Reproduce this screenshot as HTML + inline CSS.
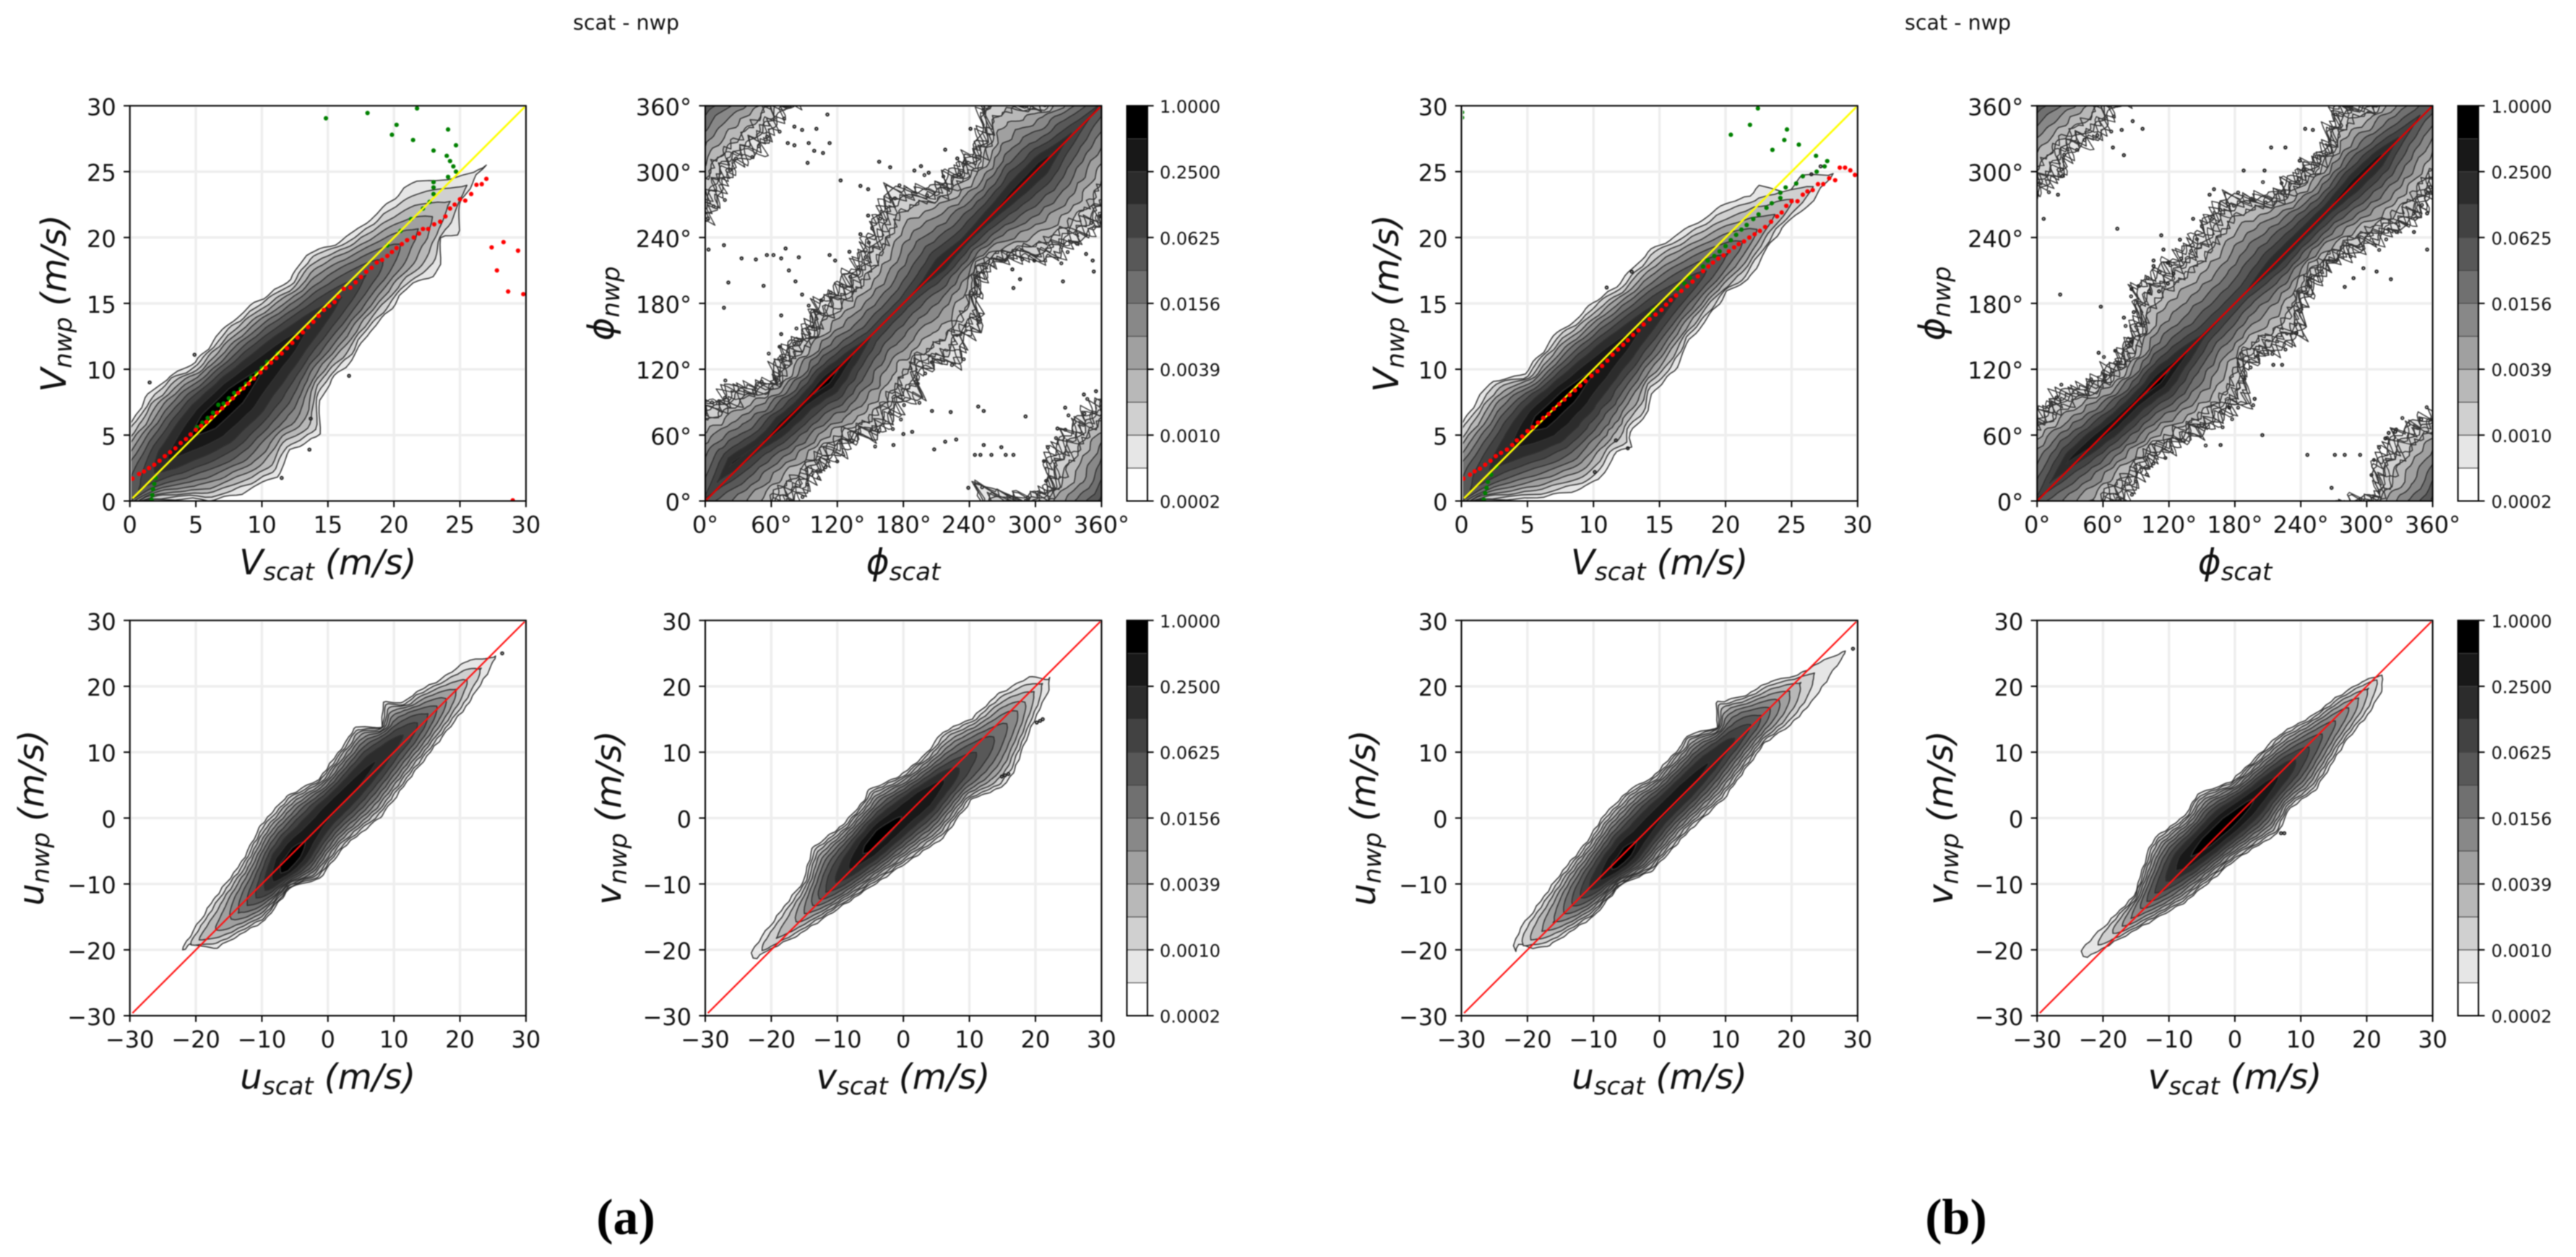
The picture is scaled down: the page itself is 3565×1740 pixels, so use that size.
<!DOCTYPE html>
<html lang="en">
<head>
<meta charset="utf-8">
<title>scat - nwp density comparison</title>
<style>
html,body{margin:0;padding:0;background:#fff;}
#figure{display:block;width:3565px;height:1740px;filter:blur(0.7px);}
text{font-family:"DejaVu Sans","Liberation Sans",sans-serif;fill:#111;}
.tick{font-size:32px;}
.cbtick{font-size:24px;}
.title{font-size:28.5px;}
.al{font-size:48.5px;font-style:italic;}
.al .sub{font-size:34px;}
.panel-tag{font-family:"Liberation Serif",serif;font-weight:bold;font-size:70px;fill:#000;}
</style>
</head>
<body>
<svg id="figure" xmlns="http://www.w3.org/2000/svg" width="3565" height="1740" viewBox="0 0 3565 1740">
<rect width="3565" height="1740" fill="#fff"/>
<g id="marks"></g>

<text class="title" x="866.5" y="41" text-anchor="middle">scat - nwp</text>
<text class="title" x="2709.5" y="41" text-anchor="middle">scat - nwp</text>

<text class="al" x="453.8" y="795" text-anchor="middle">V<tspan class="sub" dy="8">scat</tspan><tspan dy="-8" dx="15">(m/s)</tspan></text>
<text class="al" transform="translate(91,420) rotate(-90)" text-anchor="middle">V<tspan class="sub" dy="8">nwp</tspan><tspan dy="-8" dx="15">(m/s)</tspan></text>
<text class="al" x="1250" y="795" text-anchor="middle">ϕ<tspan class="sub" dy="8">scat</tspan></text>
<text class="al" transform="translate(849,420) rotate(-90)" text-anchor="middle">ϕ<tspan class="sub" dy="8">nwp</tspan></text>
<text class="al" x="453.8" y="1507" text-anchor="middle">u<tspan class="sub" dy="8">scat</tspan><tspan dy="-8" dx="15">(m/s)</tspan></text>
<text class="al" transform="translate(60,1132) rotate(-90)" text-anchor="middle">u<tspan class="sub" dy="8">nwp</tspan><tspan dy="-8" dx="15">(m/s)</tspan></text>
<text class="al" x="1250" y="1507" text-anchor="middle">v<tspan class="sub" dy="8">scat</tspan><tspan dy="-8" dx="15">(m/s)</tspan></text>
<text class="al" transform="translate(859,1132) rotate(-90)" text-anchor="middle">v<tspan class="sub" dy="8">nwp</tspan><tspan dy="-8" dx="15">(m/s)</tspan></text>

<text class="al" x="2296.6" y="795" text-anchor="middle">V<tspan class="sub" dy="8">scat</tspan><tspan dy="-8" dx="15">(m/s)</tspan></text>
<text class="al" transform="translate(1935,420) rotate(-90)" text-anchor="middle">V<tspan class="sub" dy="8">nwp</tspan><tspan dy="-8" dx="15">(m/s)</tspan></text>
<text class="al" x="3093" y="795" text-anchor="middle">ϕ<tspan class="sub" dy="8">scat</tspan></text>
<text class="al" transform="translate(2691,420) rotate(-90)" text-anchor="middle">ϕ<tspan class="sub" dy="8">nwp</tspan></text>
<text class="al" x="2296.6" y="1507" text-anchor="middle">u<tspan class="sub" dy="8">scat</tspan><tspan dy="-8" dx="15">(m/s)</tspan></text>
<text class="al" transform="translate(1903,1132) rotate(-90)" text-anchor="middle">u<tspan class="sub" dy="8">nwp</tspan><tspan dy="-8" dx="15">(m/s)</tspan></text>
<text class="al" x="3093" y="1507" text-anchor="middle">v<tspan class="sub" dy="8">scat</tspan><tspan dy="-8" dx="15">(m/s)</tspan></text>
<text class="al" transform="translate(2702,1132) rotate(-90)" text-anchor="middle">v<tspan class="sub" dy="8">nwp</tspan><tspan dy="-8" dx="15">(m/s)</tspan></text>

<text class="panel-tag" x="866" y="1708" text-anchor="middle">(a)</text>
<text class="panel-tag" x="2707" y="1708" text-anchor="middle">(b)</text>
</svg>

<script>
/* ---------- shared tick labels and colour levels ---------- */
const speedTicks = [0, 5, 10, 15, 20, 25, 30];
const directionTicks = [0, 60, 120, 180, 240, 300, 360];
const componentTicks = [-30, -20, -10, 0, 10, 20, 30];
const colorbarLabels = ['0.0002', '0.0010', '0.0039', '0.0156', '0.0625', '0.2500', '1.0000'];
const bandColors = ['#ffffff', '#e6e6e6', '#d0d0d0', '#b8b8b8', '#a0a0a0', '#888888', '#707070', '#585858', '#424242', '#2c2c2c', '#181818', '#000000'];
/* hand-typed contour wiggle (units of the panel's roughness) */
const edgeNoise = [0.6, -0.9, 0.3, 1, -0.4, -1, 0.8, -0.2, 0.5, -0.7, 1, 0.1, -0.8, 0.4, -0.3, 0.9, -1, 0.2, 0.7, -0.6, -0.1, 1, -0.9, 0.5, -0.4, 0.8, 0, -0.7, 0.6, -1, 0.3, 0.9, -0.5, -0.2, 0.7, -0.8, 1, -0.3, 0.4, -0.9, 0.2];

/* ---------- density contours: position along diagonal, then y-x offset or peak level ---------- */
const a1Upper = [[-3,6],[0,6],[3.1,5.8],[4.5,6.6],[6.25,6.5],[7.75,5.5],[9.45,5.9],[10.75,5.9],[12.35,5.5],[14.5,4.6],[16.1,5.4],[17.35,4.1],[18.85,3.3],[21.2,3],[22.95,2.7],[23.75,1.1],[25.5,-1.2],[26.2,-1.5]];
const a1Lower = [[-3,-0.5],[0,-0.5],[1,-1.8],[2.6,-4.8],[3,-6],[4.35,-7.7],[6.55,-9.3],[8.05,-8.3],[9.7,-9.4],[11,-6.8],[12.3,-6],[13.85,-6.1],[15.45,-5.3],[17.1,-5.2],[18.9,-4.8],[19.9,-5.8],[20.8,-5.6],[21.85,-3.3],[22.6,-4.8],[23.9,-2.2],[25.5,-1.6],[26.2,-1.5]];
const a1Ridge = [[-3,0],[3,0.3],[8,0.2],[12,-0.2],[16,-0.6],[20,-1],[24,-1.6],[26.2,-1.5]];
const a1Peak = [[-3,6.5],[0,7.2],[1.5,8.5],[3,10],[4.5,10.8],[6,11.6],[8,11.6],[10,11],[12,10.5],[14,9.7],[16,8.8],[18,7.6],[20,6],[22,4.2],[24,2.4],[25.5,1.4],[26.2,1]];
const a1Specks = [[4.9,11.1],[1.5,9],[13.7,6.25],[13.6,3.9],[11.5,1.75],[16.6,9.5]];

const a2Upper = [[0,90],[20,94],[41,93],[46,91],[53,73],[62,84],[71,65],[85,47],[96,60],[110,66],[123,61],[138,78],[154,73],[167,75],[181,81],[199,94],[225,117],[244,79],[257,75],[282,73],[303,99],[310,132],[315,108],[327,73],[343,58],[353,86],[360,90]];
const a2Lower = [[0,-88],[5,-90],[35,-75],[48,-79],[74,-74],[86,-79],[100,-80],[106,-96],[124,-93],[140,-88],[146,-104],[153,-76],[167,-83],[178,-103],[192,-85],[206,-92],[216,-60],[236,-42],[253,-62],[265,-91],[299,-105],[319,-100],[345,-79],[360,-88]];
const a2Ridge = [[0,3],[30,10],[60,0],[110,-2],[180,0],[360,3]];
const a2Peak = [[0,8],[15,9],[30,10.2],[50,10],[70,10.8],[90,10.6],[110,11.6],[130,10.4],[150,9],[180,8.8],[200,9.4],[215,10.2],[235,9.6],[250,9.8],[280,10.4],[305,10.6],[325,9.4],[345,8.5],[360,8]];
const a2Specks = [[111,352],[81,341],[88,338],[101,339],[94,326],[81,324],[75,326],[113,326],[99,319],[107,317],[93,308],[158,309],[168,304],[190,301],[203,299],[196,305],[218,320],[229,312],[241,339],[123,292],[141,287],[148,284],[148,260],[141,243],[3,229],[17,233],[33,221],[46,220],[56,224],[62,224],[69,221],[73,230],[85,222],[113,224],[118,219],[131,227],[76,210],[82,200],[53,196],[21,199],[88,188],[17,176],[69,169],[69,152],[206,82],[223,81],[248,86],[253,82],[291,77],[188,63],[171,51],[180,61],[218,54],[228,56],[208,47],[245,42],[250,42],[260,42],[273,42],[280,42],[253,51],[269,49],[320,66],[327,85],[344,97],[355,100],[353,209],[352,219],[325,200],[346,225],[286,202],[280,194],[279,211],[299,219],[239,12]];

const a3Upper = [[-21,2.2],[-19.3,3],[-15.2,4.8],[-10,6.3],[-5.5,9.1],[-1.5,9.55],[2.3,7.2],[7.6,9],[8.9,9.75],[10.95,5.7],[13.1,9.25],[14.35,6.1],[16.1,5.8],[19,4],[22.65,2.7],[24.7,-0.8],[25,-0.9]];
const a3Lower = [[-21,1.8],[-20,1.7],[-18.4,-2.8],[-12.5,-6],[-8.1,-4.8],[-5.25,-7.9],[-0.9,-6.8],[4.2,-7.8],[9.35,-6.3],[14.35,-5.1],[19.35,-3.9],[23.55,-1.9],[25,-1]];
const a3Ridge = [[-21,2],[-16,-0.5],[-10,-1.5],[-6,-1],[0,1],[10,1.5],[20,0],[25,-0.8]];
const a3Peak = [[-21,1],[-19,3],[-17,4],[-15,5],[-12,7.5],[-9,10],[-7,11.5],[-5,11.5],[-3,10.8],[-1,10.5],[2,10.5],[5,10.3],[8,10],[10,9.5],[12,9],[14,8],[16,6.5],[18,5],[20,3.5],[22,2.5],[24,1.2],[25,1]];
const a3Specks = [[26.4,25]];

const a4Upper = [[-22,2.4],[-20.65,3.1],[-17.8,4],[-12.35,5.5],[-9.2,9.2],[-5.05,8.1],[-1.7,8.6],[-0.55,9.5],[3.1,6.8],[6.65,6.3],[9.55,7.1],[12.75,4.7],[16.45,4.5],[20.35,2.3],[21.35,-0.7],[21.6,-0.8]];
const a4Lower = [[-22,1],[-20.75,0.7],[-16.9,-1.8],[-12.75,-3.5],[-3.8,-7],[1.5,-9],[6.65,-7.5],[9.7,-10.2],[11.8,-9.8],[14,-7.75],[17.3,-5],[20.7,-2.6],[21.6,-1]];
const a4Ridge = [[-22,1.5],[-16,0.5],[-8,0.5],[-3,1],[3,0],[8,-0.8],[14,-1.5],[20,-0.5],[21.6,-0.8]];
const a4Peak = [[-22,1],[-20,2.5],[-18,3.2],[-16,4],[-14,5.5],[-12,7.5],[-10,9],[-8,10],[-5,11.3],[-3,11.5],[0,11],[3,11],[6,10],[9,8.5],[12,7.5],[14,6.5],[16,5.5],[18,4],[20,2.5],[21.6,1]];
const a4Specks = [[15.4,6.5],[14.9,6.3],[15.9,6.7],[20.7,14.75],[20.2,14.5],[21.1,15]];

const b1Upper = [[-3,6],[0,5.8],[3,5.8],[3.8,6.2],[5.7,6.8],[7.2,4.8],[9.75,5.5],[11.7,5],[12.65,5.1],[14,4.5],[16.6,4.8],[18.3,3.8],[19.85,3.1],[21.45,2.5],[22.55,1.1],[23.2,1.6],[24,-1.2],[25.25,-1.1],[26.35,-3.1]];
const b1Lower = [[-3,-0.5],[0,-0.5],[1,-1.8],[2.6,-4.8],[3.3,-6],[4.9,-8],[6,-8.8],[7.65,-8.1],[8.55,-8.7],[8.8,-7.6],[10.5,-7.4],[11.3,-6.2],[13,-6.2],[14.75,-5.1],[16.8,-4.6],[18,-4.3],[19.25,-4.9],[21.35,-3.9],[22.55,-3.5],[23.6,-3.8],[24.65,-3.7],[26.35,-3.4]];
const b1Ridge = [[-3,0],[3,0.3],[8,0],[15,-0.5],[20,-1.5],[24,-2.2],[26.35,-3.3]];
const b1Peak = [[-3,6.5],[0,7.2],[1.5,8.5],[4,10],[6,11.5],[8,11.5],[10,11],[12,10.5],[14,9.8],[16,9],[18,8],[20,6.5],[22,4.5],[24,3],[25.5,1.8],[26.35,1]];
const b1Specks = [[11,16.2],[12.9,17.4],[12.6,4],[11.7,4.6],[10.1,2.2],[27.2,25.4],[26.5,24.8]];

const b2Upper = [[0,90],[17,94],[39,78],[60,77],[75,59],[99,53],[128,72],[140,103],[174,95],[189,94],[217,105],[226,102],[244,66],[264,61],[290,58],[314,84],[325,74],[338,54],[348,83],[360,90]];
const b2Lower = [[0,-75],[18,-85],[33,-71],[43,-75],[74,-67],[98,-81],[112,-90],[127,-92],[143,-98],[155,-66],[173,-75],[197,-89],[211,-61],[240,-50],[260,-63],[281,-75],[301,-88],[320,-78],[337,-84],[355,-72],[360,-75]];
const b2Ridge = [[0,3],[35,8],[70,0],[110,-2],[180,0],[360,3]];
const b2Peak = [[0,8],[15,9],[35,10.3],[50,10.8],[70,11],[90,10.8],[110,11.5],[130,10.5],[150,9.3],[170,9],[190,9],[215,10],[245,10],[265,10],[290,10.7],[310,10.5],[330,9],[350,8],[360,8]];
const b2Specks = [[69,322],[79,315],[77,338],[96,339],[87,346],[23,296],[19,279],[6,257],[21,188],[58,177],[79,167],[86,193],[56,135],[73,248],[142,257],[130,238],[113,242],[115,229],[106,219],[106,214],[119,217],[124,207],[119,198],[102,191],[111,191],[86,145],[88,172],[157,279],[161,284],[188,301],[207,301],[213,322],[226,322],[239,310],[244,339],[251,338],[355,262],[343,245],[355,229],[322,202],[309,209],[297,212],[280,195],[288,203],[198,93],[175,85],[167,51],[215,124],[223,124],[236,153],[205,60],[246,42],[271,42],[280,42],[294,42],[268,12],[317,57],[320,62],[326,63]];

const b3Upper = [[-21,2.5],[-18.95,4.3],[-15.2,5.4],[-11.5,6.6],[-7.3,7.4],[-4.1,8.8],[-0.25,8.9],[2.6,7.2],[7.25,7.7],[8.3,8.4],[11.3,5],[13.15,9.1],[13.7,8],[15.95,5.5],[18.65,4.1],[21.35,0.7],[23.9,-0.6],[26.65,-2.7]];
const b3Lower = [[-21,2],[-20.1,2],[-19.5,-0.6],[-18,-2.7],[-12.3,-5],[-8.1,-4.2],[-4.45,-6.9],[1.5,-6.4],[6.3,-6.8],[13.75,-4.5],[16.95,-5.7],[20.15,-5.5],[26.65,-3.1]];
const b3Ridge = [[-21,1.5],[-15,0],[-6,-0.7],[0,0.8],[10,1],[20,-0.5],[26.65,-2.8]];
const b3Peak = [[-21,1],[-19,3],[-17,4.2],[-15,5.5],[-12,8],[-10,9.5],[-7,11.3],[-5,11.5],[-3,10.8],[0,10.5],[4,10.5],[8,10],[11,9.3],[14,8],[16,6.5],[18,5],[20,3.5],[22,2.2],[24,1.5],[26.65,1]];
const b3Specks = [[29.3,25.7]];

const b4Upper = [[-22,3],[-20.8,3.4],[-16.8,3.4],[-13.6,3.4],[-8.8,8.4],[-7.55,9.1],[-3.65,7.9],[-1.05,9.3],[2.45,6.1],[9.85,5.9],[13.5,3.8],[16.85,2.9],[20,1.4],[21.7,-0.2],[22,-0.5]];
const b4Lower = [[-22,1.5],[-21.15,0.9],[-16.2,-1.8],[-10.2,-5.2],[-3.1,-6.4],[2.1,-8.8],[5,-6.8],[8.2,-8],[14.1,-5.2],[18.3,-4.4],[20.85,-2.9],[22,-0.8]];
const b4Ridge = [[-22,2],[-16,0.5],[-8,1],[-3,0.5],[3,0],[10,-0.5],[16,-0.5],[22,-0.6]];
const b4Peak = [[-22,1],[-20,2],[-18,3],[-16,4.5],[-14,6],[-12,7.8],[-10,9],[-7,10.8],[-4,11.5],[-1,11.6],[2,11.2],[5,10.5],[8,9.5],[10,8.5],[13,7],[15,6],[17,5],[19,3.5],[21,2.2],[22,1]];
const b4Specks = [[7,-2.3],[7.5,-2.3]];

/* ---------- binned means: red = nwp given scat, green = scat given nwp ---------- */
const a1RedX = [0.2,0.7,1.07,1.45,1.85,2.25,2.65,3.05,3.45,3.85,4.25,4.6,5,5.4,5.8,6.2,6.6,7,7.4,7.8,8.2,8.6,9,9.4,9.9,10.3,10.7,11.1,11.5,11.9,12.3,12.7,13.1,13.5,13.9,14.3,14.7,15.1,15.5,15.8,16.2,16.7,17.1,17.5,17.9,18.3,18.7,19.1,19.5,19.85,20.2,20.6,21,21.5,21.9,22.2,22.6,23.05,23.5,23.9,24.25,24.6,25,25.4,25.85,26.25,26.65,27,27.4,27.8,28.3,28.65,29.4,29.8,29];
const a1RedY = [1.7,2.05,2.24,2.5,2.75,3.05,3.4,3.7,4,4.4,4.7,5.05,5.4,5.7,6,6.35,6.7,7.05,7.4,7.8,8.2,8.55,8.9,9.3,9.75,10.1,10.5,10.85,11.2,11.6,12,12.4,12.8,13.2,13.6,14.05,14.5,14.8,15.1,15.5,16.1,16.2,16.6,17,17.4,17.7,18.1,18.3,18.6,18.9,19.2,19.5,19.8,20,20.3,20.65,20.65,21,21.2,21.6,22.2,22.5,22.9,22.8,23.3,24,24.05,24.45,19.25,17.5,19.65,15.9,19,15.7,0.05];
const a1GreenX = [1.65,1.7,1.75,1.85,1.95,5.1,5.5,5.9,6.3,6.7,7.1,7.5,7.9,8.4,8.8,9.2,9.6,10,10.4,11.2,19.5,20.5,21.3,22.2,22.7,23,23,23,24.1,24.7,24.5,24.25,24,23,24.7,21.45,19.85,24.1,20.2,14.85,18,21.75];
const a1GreenY = [0.1,0.45,0.9,1.3,1.75,5.6,5.95,6.3,6.7,7.3,7.4,7.8,8.2,8.5,8.9,9.35,9.7,10.1,10.55,11.2,19.4,20.5,21.4,22.2,22.7,23.3,23.8,24.2,24.6,25,25.4,25.8,26.2,26.6,27,27.4,27.8,28.2,28.55,29.05,29.45,29.8];
const b1RedX = [0.15,0.65,1,1.4,1.8,2.2,2.6,3,3.45,3.85,4.2,4.6,5,5.4,5.8,6.2,6.6,7,7.4,7.8,8.2,8.6,9,9.4,9.85,10.3,10.65,11.05,11.45,11.85,12.25,12.6,13,13.4,13.8,14.25,14.7,15.15,15.5,15.85,16.25,16.65,17.1,17.5,17.9,18.3,18.7,19.05,19.45,19.85,20.25,20.65,21,21.4,21.8,22.2,22.6,23,23.45,23.9,24.25,24.6,25,25.45,25.85,26.2,26.6,27,27.4,27.85,28.3,28.65,29.05,29.45,29.8];
const b1RedY = [1.7,2,2.25,2.45,2.75,3.05,3.4,3.65,3.9,4.25,4.6,4.9,5.3,5.6,5.95,6.3,6.6,7,7.35,7.7,8.05,8.4,8.75,9.1,9.5,9.85,10.25,10.65,11.1,11.5,11.85,12.2,12.6,12.95,13.4,13.8,14.15,14.5,14.9,15.25,15.6,15.95,16.3,16.65,17.05,17.45,17.8,18.1,18.4,18.65,18.95,19.25,19.5,19.7,20,20.25,20.5,20.8,21.2,21.6,21.9,22.4,22.75,22.75,23.25,23.5,23.6,24.05,24.05,24.5,24.35,25.3,25.3,25.1,24.75];
const b1GreenX = [0.05,0.05,1.7,1.8,1.9,2,2.25,2.65,14.2,14.5,16.4,16.9,17.3,18.3,18.65,19.15,19.55,20,20.4,20.8,21.2,21.6,22.1,22.5,23.1,23.5,24.15,24.15,24.55,25.35,25.85,26.9,27.5,27.7,26.85,23.55,25.55,24.45,20.4,24.65,21.85,22.45];
const b1GreenY = [29.5,29.1,0.1,0.6,1,1.45,2,2.6,14.1,14.5,16.1,16.5,16.95,17.8,18.25,18.6,18.95,19.35,19.8,20.2,20.6,20.95,21.4,21.75,22.25,22.6,23,23.4,23.8,24.1,24.65,25,25.4,25.8,26.2,26.65,27.05,27.4,27.8,28.2,28.55,29.8];

/* ---------- layout ---------- */
const rowTop = {top: 146.4, bottom: 693.5};
const rowBottom = {top: 858.8, bottom: 1406};
const colA1 = {left: 179.7, right: 727.9};
const colA2 = {left: 976, right: 1524.4};
const colB1 = {left: 2022.5, right: 2570.8};
const colB2 = {left: 2819.2, right: 3366.6};

const speedScale = {min: 0, max: 30, step: 0.25, k: 0.68, rough: 0.2, smooth: 2, fringe: false, ticks: speedTicks, deg: false, periodic: false, line: '#ffff00', lineEnds: [0.2, 29.9], lineWidth: 2.6, inset: 0.12};
const directionScale = {min: 0, max: 360, step: 2, k: 1.1, rough: 8, smooth: 30, fringe: true, ticks: directionTicks, deg: true, periodic: true, line: '#e00000', lineEnds: [1, 359], lineWidth: 2.4, inset: 0};
const componentScale = {min: -30, max: 30, step: 0.25, k: 0.6, rough: 0.2, smooth: 2, fringe: false, ticks: componentTicks, deg: false, periodic: false, line: '#ff1010', lineEnds: [-29.6, 29.8], lineWidth: 2.2, inset: 0};

const panels = [
  {id: 'a-speed', col: colA1, row: rowTop, scale: speedScale, upper: a1Upper, lower: a1Lower, ridge: a1Ridge, peak: a1Peak, specks: a1Specks, redX: a1RedX, redY: a1RedY, greenX: a1GreenX, greenY: a1GreenY},
  {id: 'a-direction', col: colA2, row: rowTop, scale: directionScale, upper: a2Upper, lower: a2Lower, ridge: a2Ridge, peak: a2Peak, specks: a2Specks, bar: {left: 1559.5, right: 1588, text: 1605}},
  {id: 'a-u', col: colA1, row: rowBottom, scale: componentScale, upper: a3Upper, lower: a3Lower, ridge: a3Ridge, peak: a3Peak, specks: a3Specks},
  {id: 'a-v', col: colA2, row: rowBottom, scale: componentScale, upper: a4Upper, lower: a4Lower, ridge: a4Ridge, peak: a4Peak, specks: a4Specks, bar: {left: 1559.5, right: 1588, text: 1605}},
  {id: 'b-speed', col: colB1, row: rowTop, scale: speedScale, upper: b1Upper, lower: b1Lower, ridge: b1Ridge, peak: b1Peak, specks: b1Specks, redX: b1RedX, redY: b1RedY, greenX: b1GreenX, greenY: b1GreenY},
  {id: 'b-direction', col: colB2, row: rowTop, scale: directionScale, upper: b2Upper, lower: b2Lower, ridge: b2Ridge, peak: b2Peak, specks: b2Specks, bar: {left: 3401.6, right: 3430, text: 3447.7}},
  {id: 'b-u', col: colB1, row: rowBottom, scale: componentScale, upper: b3Upper, lower: b3Lower, ridge: b3Ridge, peak: b3Peak, specks: b3Specks},
  {id: 'b-v', col: colB2, row: rowBottom, scale: componentScale, upper: b4Upper, lower: b4Lower, ridge: b4Ridge, peak: b4Peak, specks: b4Specks, bar: {left: 3401.6, right: 3430, text: 3447.7}}
];

/* ---------- helpers ---------- */
const NS = 'http://www.w3.org/2000/svg';
const root = document.getElementById('marks');
function svgEl(parent, tag, attrs) {
  const el = document.createElementNS(NS, tag);
  for (const key in attrs) el.setAttribute(key, attrs[key]);
  parent.appendChild(el);
  return el;
}
function interp(knots, t, periodic) {
  if (periodic) t = ((t % 360) + 360) % 360;
  if (t <= knots[0][0]) return knots[0][1];
  for (let i = 1; i < knots.length; i++) {
    if (t <= knots[i][0]) {
      const a = knots[i - 1], b = knots[i];
      return b[0] === a[0] ? b[1] : a[1] + (b[1] - a[1]) * (t - a[0]) / (b[0] - a[0]);
    }
  }
  return knots[knots.length - 1][1];
}
function fmtTick(v, deg) {
  const s = String(Math.abs(v));
  return (v < 0 ? '\u2212' : '') + s + (deg ? '\u00b0' : '');
}
function noiseAt(i, rate) {
  const pos = i * rate;
  const a = Math.floor(pos);
  const frac = pos - a;
  const n = edgeNoise.length;
  return edgeNoise[a % n] * (1 - frac) + edgeNoise[(a + 1) % n] * frac;
}
/* inner contours follow a smoothed version of the outer edge */
function smoothEdge(knots, t, w, periodic) {
  if (w <= 0) return interp(knots, t, periodic);
  return (interp(knots, t - w, periodic) + interp(knots, t, periodic) + interp(knots, t + w, periodic)) / 3;
}

/* one closed outline per contiguous stretch of the diagonal where the peak exceeds level L */
function contourRuns(p, L, shift, tangle) {
  const sc = p.scale;
  const first = sc.periodic ? -80 : p.peak[0][0];
  const last = sc.periodic ? 440 : p.peak[p.peak.length - 1][0];
  const rate = tangle === 1 ? 0.83 : tangle === 2 ? 0.61 : 0.37;
  const amp = tangle === 1 ? sc.rough * 1.5 : tangle === 2 ? sc.rough * 2 : sc.rough;
  const phase = tangle ? tangle * L * 19 + 5 : 0;
  const runs = [];
  let run = null;
  let index = 100;
  for (let t = first; t <= last + 1e-6; t += sc.step, index++) {
    const P = interp(p.peak, t, sc.periodic);
    if (P > L) {
      if (!run) { run = {up: [], low: [], start: t}; runs.push(run); }
      const R = interp(p.ridge, t, sc.periodic);
      const f = L === 1 ? 1 : Math.pow((P - L) / (P - 1), sc.k);
      const w = (1 - f) * sc.smooth;
      const U = smoothEdge(p.upper, t, w, sc.periodic);
      const W = smoothEdge(p.lower, t, w, sc.periodic);
      const g = Math.pow(f, 1.5);
      const nu = noiseAt(index + L * 7 + phase, rate) * amp * g;
      const nl = noiseAt(index + L * 13 + 11 + phase, rate) * amp * g;
      const du = R + (U - R) * f + nu;
      const dl = R + (W - R) * f + nl;
      run.up.push([t - du / 2, t + du / 2 + shift]);
      run.low.push([t - dl / 2, t + dl / 2 + shift]);
      run.end = t;
    } else {
      run = null;
    }
  }
  return runs;
}
function runPath(p, r, shift, sx, sy) {
  const sc = p.scale;
  const R0 = interp(p.ridge, r.start - sc.step, sc.periodic);
  const R1 = interp(p.ridge, r.end + sc.step, sc.periodic);
  const tipA = [r.start - sc.step - R0 / 2, r.start - sc.step + R0 / 2 + shift];
  const tipB = [r.end + sc.step - R1 / 2, r.end + sc.step + R1 / 2 + shift];
  const pts = [tipA].concat(r.up, [tipB], r.low.slice().reverse());
  return 'M' + pts.map(function (q) { return sx(q[0]).toFixed(1) + ' ' + sy(q[1]).toFixed(1); }).join('L') + 'Z';
}

/* ---------- draw ---------- */
panels.forEach(function (p) {
  const sc = p.scale;
  const L0 = p.col.left, R0 = p.col.right, T0 = p.row.top, B0 = p.row.bottom;
  const sx = function (v) { return L0 + (v - sc.min) / (sc.max - sc.min) * (R0 - L0); };
  const sy = function (v) { return B0 - (v - sc.min) / (sc.max - sc.min) * (B0 - T0); };

  const g = svgEl(root, 'g', {});
  
  

  const defs = svgEl(g, 'defs', {});
  const clip = svgEl(defs, 'clipPath', {id: 'clip-' + p.id});
  svgEl(clip, 'rect', {x: sx(sc.min + sc.inset), y: T0, width: R0 - sx(sc.min + sc.inset), height: sy(sc.min + sc.inset * 0.4) - T0});

  /* grid */
  sc.ticks.forEach(function (v) {
    const gx = svgEl(g, 'line', {x1: sx(v), x2: sx(v), y1: T0, y2: B0, stroke: '#eeeeee', 'stroke-width': 3.5});
    
    
    const gy = svgEl(g, 'line', {x1: L0, x2: R0, y1: sy(v), y2: sy(v), stroke: '#eeeeee', 'stroke-width': 3.5});
    
    
  });

  const plot = svgEl(g, 'g', {'clip-path': 'url(#clip-' + p.id + ')'});
  
  

  const shifts = sc.periodic ? [0, 360, -360] : [0];
  for (let L = 1; L <= 11; L++) {
    shifts.forEach(function (shift) {
      contourRuns(p, L, shift, 0).forEach(function (r) {
        const band = svgEl(plot, 'path', {d: runPath(p, r, shift, sx, sy), fill: bandColors[L], stroke: '#303030', 'stroke-width': 1.5, 'stroke-linejoin': 'round'});
        
        
        if (sc.fringe && L === 1) {
          r.up.concat(r.low).forEach(function (q, i) {
            if (i % 4 !== 0) return;
            const off = noiseAt(i + 3, 0.91) * 9;
            const ring = svgEl(plot, 'circle', {cx: sx(q[0] + off), cy: sy(q[1] - off), r: 1.8, fill: 'none', stroke: '#2a2a2a', 'stroke-width': 1.8});
            
            
          });
        }
      });
      if (sc.fringe && L <= 3) {
        contourRuns(p, L, shift, 1).forEach(function (r) {
          const tangle = svgEl(plot, 'path', {d: runPath(p, r, shift, sx, sy), fill: 'none', stroke: '#333333', 'stroke-width': 1.5, 'stroke-linejoin': 'round'});
          
          
        });
      }
      if (sc.fringe && L <= 2) {
        contourRuns(p, L, shift, 2).forEach(function (r) {
          const tangleB = svgEl(plot, 'path', {d: runPath(p, r, shift, sx, sy), fill: 'none', stroke: '#333333', 'stroke-width': 1.4, 'stroke-linejoin': 'round'});
          
          
        });
      }
    });
  }
  p.specks.forEach(function (s) {
    const speck = svgEl(plot, 'circle', {cx: sx(s[0]), cy: sy(s[1]), r: 1.8, fill: 'none', stroke: '#222222', 'stroke-width': 2});
    
    
  });

  const overlay = svgEl(g, 'g', {'clip-path': 'url(#clip-' + p.id + ')'});
  
  

  if (p.greenX) {
    p.greenX.forEach(function (x, i) {
      const dot = svgEl(overlay, 'circle', {cx: sx(x), cy: sy(p.greenY[i]), r: 3.1, fill: '#008000'});
      
      
    });
  }
  const ref = svgEl(overlay, 'line', {x1: sx(sc.lineEnds[0]), y1: sy(sc.lineEnds[0]), x2: sx(sc.lineEnds[1]), y2: sy(sc.lineEnds[1]), stroke: sc.line, 'stroke-width': sc.lineWidth});
  
  
  if (p.redX) {
    p.redX.forEach(function (x, i) {
      const dot = svgEl(overlay, 'circle', {cx: sx(x), cy: sy(p.redY[i]), r: 3.1, fill: '#ff0000'});
      
      
    });
  }

  /* frame */
  const frame = svgEl(g, 'rect', {x: L0, y: T0, width: R0 - L0, height: B0 - T0, fill: 'none', stroke: '#000', 'stroke-width': 2});
  
  

  /* ticks */
  sc.ticks.forEach(function (v) {
    const tx = svgEl(g, 'line', {x1: sx(v), x2: sx(v), y1: B0, y2: B0 + 8.6, stroke: '#000', 'stroke-width': 2});
    
    
    const ty = svgEl(g, 'line', {x1: L0 - 8.6, x2: L0, y1: sy(v), y2: sy(v), stroke: '#000', 'stroke-width': 2});
    
    
    const lx = svgEl(g, 'text', {x: sx(v), y: B0 + 44, 'text-anchor': 'middle', 'class': 'tick'});
    
    
    lx.textContent = fmtTick(v, sc.deg);
    const ly = svgEl(g, 'text', {x: L0 - 19, y: sy(v) + 13, 'text-anchor': 'end', 'class': 'tick'});
    
    
    ly.textContent = fmtTick(v, sc.deg);
  });

  /* colour bar */
  if (p.bar) {
    const bar = svgEl(g, 'g', {});
    
    
    const h = (B0 - T0) / bandColors.length;
    bandColors.forEach(function (c, i) {
      const seg = svgEl(bar, 'rect', {x: p.bar.left, y: B0 - (i + 1) * h, width: p.bar.right - p.bar.left, height: h, fill: c, stroke: '#444', 'stroke-width': 1});
      
      
    });
    const cf = svgEl(bar, 'rect', {x: p.bar.left, y: T0, width: p.bar.right - p.bar.left, height: B0 - T0, fill: 'none', stroke: '#000', 'stroke-width': 2});
    
    
    colorbarLabels.forEach(function (label, i) {
      const y = B0 - i * 2 * h;
      const ct = svgEl(bar, 'line', {x1: p.bar.right, x2: p.bar.right + 8.6, y1: y, y2: y, stroke: '#000', 'stroke-width': 2});
      
      
      const cl = svgEl(bar, 'text', {x: p.bar.text, y: y + 9.5, 'class': 'cbtick'});
      
      
      cl.textContent = label;
    });
  }
});
</script>
</body>
</html>
